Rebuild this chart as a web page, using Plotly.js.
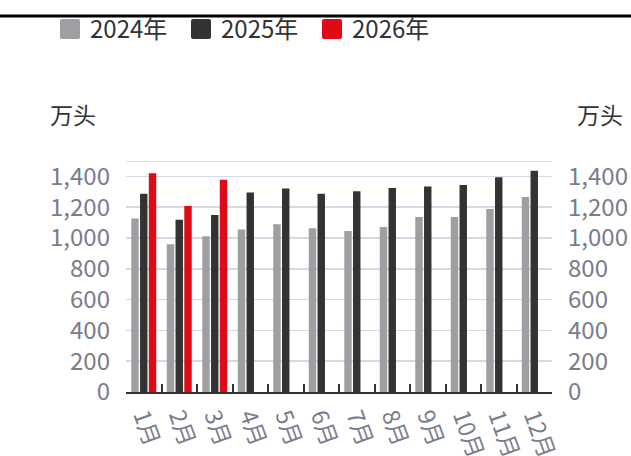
<!DOCTYPE html>
<html>
<head>
<meta charset="utf-8">
<script src="https://cdn.plot.ly/plotly-3.0.1.min.js"></script>
<style>html,body{margin:0;padding:0;background:#fff;}#chart{width:631px;height:456px;}</style>
</head>
<body>
<div id="chart"></div>
<script>
var months = ["1月","2月","3月","4月","5月","6月","7月","8月","9月","10月","11月","12月"];
var seriesNames = ["2024年","2025年","2026年"];
var values2024 = [1127, 960, 1012, 1056, 1090, 1064, 1045, 1071, 1136, 1136, 1188, 1266];
var values2025 = [1287, 1118, 1149, 1296, 1322, 1287, 1303, 1324, 1335, 1344, 1394, 1437];
var values2026 = [1420, 1207, 1378, null, null, null, null, null, null, null, null, null];
var unitLabel = "万头";

var W = 631, H = 456;
var M = {l: 126, r: 79, t: 161, b: 64};
var plotW = W - M.l - M.r, plotH = H - M.t - M.b;
var FONT = '"Noto Sans CJK SC", "Noto Sans", sans-serif';
var tickColor = '#7a7c8c';
var gridColor = '#d6d8e6';

var colors = ['#9d9fa2', '#333333', '#e00a16'];
var data = [values2024, values2025, values2026].map(function(v, i) {
  return {
    type: 'bar', x: months, y: v, name: seriesNames[i],
    marker: {color: colors[i], line: {width: 0}},
    hoverinfo: 'x+y+name'
  };
});

var layout = {
  width: W, height: H,
  margin: M,
  paper_bgcolor: '#ffffff', plot_bgcolor: '#ffffff',
  font: {family: FONT, size: 24, color: '#333333'},
  barmode: 'group', bargap: 0.26, bargroupgap: 0.15,
  showlegend: true,
  legend: {
    orientation: 'h', xref: 'container', yref: 'container',
    x: 50 / W, xanchor: 'left', y: 1 - 7 / H, yanchor: 'top',
    bgcolor: 'rgba(0,0,0,0)',
    font: {family: FONT, size: 24, color: '#333333'},
    entrywidth: 86, entrywidthmode: 'pixels',
    traceorder: 'normal', itemclick: false
  },
  xaxis: {
    type: 'category', tickson: 'boundaries',
    ticks: 'inside', ticklen: 8, tickwidth: 2, tickcolor: '#333333',
    showline: true, linecolor: '#333333', linewidth: 2,
    showgrid: false, zeroline: false, tickangle: 70,
    tickfont: {family: FONT, size: 23, color: tickColor},
    fixedrange: true
  },
  yaxis: {
    range: [0, 1500], dtick: 200, tick0: 0, tickformat: ',d',
    showgrid: true, gridcolor: gridColor, gridwidth: 1.5,
    zeroline: false, showline: false, ticks: '',
    ticklabelstandoff: 15,
    tickfont: {family: FONT, size: 24, color: tickColor},
    fixedrange: true
  },
  yaxis2: {
    overlaying: 'y', side: 'right', matches: 'y',
    range: [0, 1500], dtick: 200, tick0: 0, tickformat: ',d',
    showgrid: false, zeroline: false, showline: false, ticks: '',
    ticklabelstandoff: 15,
    tickfont: {family: FONT, size: 24, color: tickColor},
    fixedrange: true
  },
  shapes: [
    {type: 'line', xref: 'paper', yref: 'paper',
     x0: -M.l / plotW, x1: (W - M.l) / plotW,
     y0: (H - M.b - 16) / plotH, y1: (H - M.b - 16) / plotH,
     line: {color: '#000000', width: 3}},
    {type: 'line', xref: 'paper', yref: 'y', x0: 0, x1: 1, y0: 1500, y1: 1500,
     line: {color: gridColor, width: 1.5}}
  ],
  annotations: [
    {text: unitLabel, xref: 'paper', yref: 'paper', showarrow: false,
     x: (48 - M.l) / plotW, xanchor: 'left',
     y: (H - M.b - 114) / plotH, yanchor: 'middle',
     font: {family: FONT, size: 23, color: '#333333'}},
    {text: unitLabel, xref: 'paper', yref: 'paper', showarrow: false,
     x: (625 - M.l) / plotW, xanchor: 'right',
     y: (H - M.b - 114) / plotH, yanchor: 'middle',
     font: {family: FONT, size: 23, color: '#333333'}}
  ]
};

// invisible trace to make the right axis render
data.push({type: 'bar', x: months, y: months.map(function(){return null;}), yaxis: 'y2', showlegend: false, hoverinfo: 'skip'});

Plotly.newPlot('chart', data, layout, {displayModeBar: false, staticPlot: true}).then(function(gd) {
  // enlarge legend swatches to match the reference's bigger rounded squares
  var paths = gd.querySelectorAll('.legend .legendpoints path');
  paths.forEach(function(p) {
    p.setAttribute('d', 'M10,8Q10,10 8,10H-8Q-10,10 -10,8V-8Q-10,-10 -8,-10H8Q10,-10 10,-8Z');
  });
});
</script>
</body>
</html>
